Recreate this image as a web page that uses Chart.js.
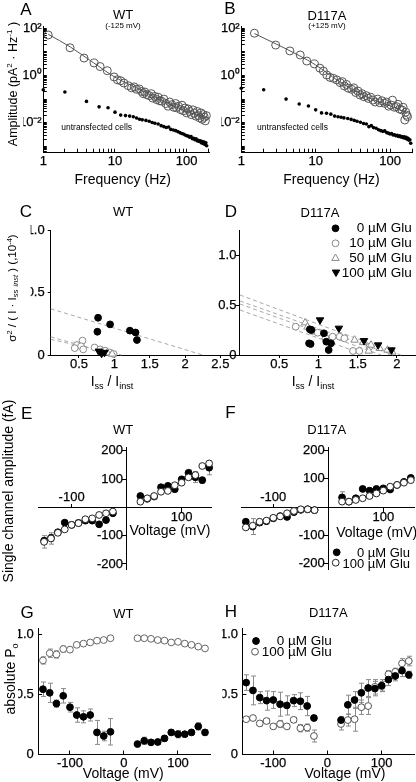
<!DOCTYPE html>
<html><head><meta charset="utf-8">
<script src="https://cdn.jsdelivr.net/npm/chart.js@4.4.1/dist/chart.umd.min.js"></script>
<style>
html,body{margin:0;padding:0;background:#fff;}
body{width:416px;height:782px;position:relative;overflow:hidden;font-family:'Liberation Sans',Arial,Helvetica,sans-serif;color:#000;}
canvas{position:absolute;left:0;top:0;}
.t{position:absolute;white-space:nowrap;line-height:1;}
.t sup{font-size:0.65em;vertical-align:0.55em;line-height:0;}
.t sub{font-size:0.65em;vertical-align:-0.3em;line-height:0;}
</style></head><body>
<script>
const FONT = "'Liberation Sans', Arial, Helvetica, sans-serif";
Chart.defaults.color = '#000';
Chart.defaults.font.family = FONT;

// ================= DATA =================
// Panel A: WT (-125 mV) noise spectra
const aFreqOpen = [1.17,2.36,3.7,5.1,6.2,7.8,9.7,10.8,12,13.3,15.3,17,18.5,20,21.8,23.5,24.8,26,27.7,30,32,33.6,36,38.2,40,42,45,48,51,55,58,62,66,70,72,77,82,86,90,95,100,105,110,116,122,128,134,140,146,152,158,164,170,176,182,188];
const aOpen = [52,15,5.5,3.4,2.4,1.6,0.87,0.66,0.6,0.48,0.37,0.3,0.33,0.26,0.27,0.21,0.17,0.2,0.155,0.14,0.17,0.11,0.13,0.095,0.12,0.085,0.081,0.1,0.065,0.05,0.075,0.058,0.045,0.065,0.043,0.05,0.036,0.055,0.032,0.042,0.026,0.038,0.03,0.022,0.035,0.025,0.019,0.03,0.02,0.016,0.026,0.014,0.022,0.017,0.012,0.02];
const dotFreq = [1,2,4,6,8,10,12,14,16,18,20,22,24,27,30,33,36,40,44,48,52,56,60,65,70,75,80,85,90,95,100,105,110,115,120,125,130,135,140,145,150,155,160,165,170,175,180,185,190];
const aDots = [0.25,0.2,0.08,0.047,0.043,0.028,0.021,0.02,0.019,0.018,0.0158,0.014,0.0132,0.0125,0.0115,0.0102,0.0095,0.0088,0.0075,0.0068,0.0063,0.0066,0.0052,0.0049,0.0046,0.0042,0.0038,0.0035,0.0033,0.0030,0.0028,0.0027,0.0024,0.0026,0.0021,0.0022,0.0019,0.0021,0.0017,0.0018,0.0016,0.0017,0.0014,0.0016,0.0013,0.0015,0.0012,0.0014,0.00105];
const aFitFreq = [1.17,2.4,5,10,20,50,100,190];
const aFit = [56,16,3.5,0.85,0.3,0.075,0.03,0.016];
// Panel B: D117A (+125 mV)
const bFreqOpen = [1.5,2.9,4.5,6.2,7.6,9.6,11.4,12.7,14.1,15.6,17.3,19.2,21.3,22.8,24.3,26,27.5,30.5,32.5,34.6,37,39.5,42,44.5,48,51,55,59,63,68,73,78,85,90,96,103,108,115,122,128,135,144,150,158,163,167,172];
const bOpen = [62,19.5,11,7.4,4.1,3.1,2.05,1.55,1.05,0.83,0.76,0.65,0.5,0.55,0.36,0.42,0.29,0.26,0.3,0.19,0.22,0.15,0.17,0.126,0.14,0.107,0.12,0.091,0.075,0.1,0.07,0.085,0.066,0.075,0.05,0.056,0.09,0.045,0.048,0.06,0.038,0.035,0.045,0.013,0.028,0.021,0.018];
const bDots = [0.29,0.25,0.1,0.062,0.051,0.035,0.026,0.025,0.023,0.019,0.018,0.017,0.016,0.015,0.0138,0.0125,0.0115,0.0105,0.0092,0.0088,0.0068,0.0075,0.0062,0.0058,0.005,0.0046,0.0043,0.0045,0.0038,0.0036,0.0033,0.0035,0.003,0.0031,0.0028,0.0029,0.0026,0.0028,0.0025,0.0026,0.0023,0.0025,0.0022,0.0024,0.002,0.0022,0.0018,0.0019,0.00135];
const bFitFreq = [1.5,3,6,10,20,50,100,170];
const bFit = [60,21,7,2.8,0.6,0.12,0.052,0.026];
const freqTickVals = [1,10,100];
const freqTickLabels = ['1','10','100'];
const ampTickVals = [0.01,1,100];
const ampTickLabels = ['10⁻²','10⁰','10²'];

// Panel C: WT variance analysis
const cZeroX = [0.77,0.94,0.76,1.22,1.30,1.32];
const cZeroY = [0.298,0.245,0.186,0.195,0.18,0.12];
const cTenX = [0.55,0.47,0.53,0.44,0.56,0.72,0.8,0.87,0.93,0.99];
const cTenY = [0.115,0.08,0.07,0.055,0.045,0.06,0.045,0.035,0.02,0.008];
const cFiftyX = [0.83,0.9,0.97];
const cFiftyY = [0.025,0.018,0.008];
const cHundX = [0.78,0.82,0.86];
const cHundY = [0.03,0.012,0.02];
const cFitLines = [[[0.1,2.25],[0.37,0]],[[0.1,1.02],[0.145,0]],[[0.1,1.1],[0.125,0]]];
// Panel D: D117A variance analysis
const dZeroX = [0.89,0.91,1.07,1.1,0.88,0.9,1.16,1.13];
const dZeroY = [0.257,0.25,0.217,0.133,0.117,0.11,0.117,0.05];
const dTenX = [0.71,0.92,0.99,1.09,1.27,1.33,1.18,1.44,1.52,1.65];
const dTenY = [0.283,0.24,0.223,0.167,0.183,0.167,0.183,0.04,0.04,0.083];
const dFiftyX = [0.83,0.86,1.46,1.57,1.67,1.64,1.78,1.88,1.94];
const dFiftyY = [0.323,0.28,0.15,0.125,0.1,0.04,0.067,0.05,0.03];
const dHundX = [1.02,1.26,1.58,1.76,1.93];
const dHundY = [0.35,0.267,0.143,0.1,0.05];
const dFitLines = [[[0,2.05],[0.6,0]],[[0,1.95],[0.54,0]],[[0,1.8],[0.51,0]],[[0,1.6],[0.45,0]]];
const ratioTickVals = [0.5,1,1.5,2,2.5];
const ratioTickLabels = ['0.5','1','1.5','2','2.5'];
const sigTickVals = [0,0.5,1.0];
const sigTickLabels = ['0','0.5','1.0'];

// Panels E-H: voltage dependence
const volts = [-150,-137.5,-125,-112.5,-100,-87.5,-75,-62.5,-50,-37.5,-25,25,37.5,50,62.5,75,87.5,100,112.5,125,137.5,150];
const eZero = [-118,-108,-88,-54,-62,-55,-47,-47,-60,-45,-21,40,30,38,71,76,64,99,122,106,96,140];
const eZeroErr = [10,12,8,6,6,5,5,6,8,6,5,8,6,6,8,6,8,10,10,18,10,25];
const eHund = [-122,-110,-90,-78,-62,-56,-42,-39,-27,-21,-15,20,32,40,55,58,78,87,106,114,146,155];
const eHundErr = [22,20,8,6,5,5,5,5,6,5,5,5,5,5,5,5,6,6,8,12,8,8];
const fZero = [-52,-69,-55,-50,-40,-32,-35,-18,-10,-8,-11,34,19,31,64,58,64,66,62,78,89,103];
const fZeroErr = [8,28,8,6,6,5,5,5,5,5,5,20,6,6,6,6,6,6,6,6,6,6];
const fHund = [-72,-66,-52,-48,-38,-33,-22,-14,-8,-8,-11,19,19,25,31,39,48,58,72,78,86,95];
const fHundErr = [6,6,5,5,5,5,5,5,5,5,5,6,5,5,5,5,5,5,5,5,5,5];
const gZero = [0.54,0.51,0.42,0.485,0.39,0.325,0.31,0.325,0.18,0.15,0.185,0.083,0.11,0.097,0.1,0.13,0.18,0.165,0.165,0.18,0.23,0.18];
const gZeroErr = [0.06,0.08,0.03,0.06,0.04,0.06,0.05,0.05,0.1,0.04,0.11,0.02,0.03,0.02,0.02,0.02,0.02,0.03,0.02,0.02,0.03,0.02];
const gHund = [0.78,0.84,0.83,0.875,0.87,0.91,0.92,0.93,0.945,0.95,0.965,0.965,0.965,0.96,0.95,0.945,0.93,0.935,0.92,0.91,0.895,0.88];
const gHundErr = [0.03,0.035,0.03,0.025,0.02,0.015,0.01,0.01,0.01,0.01,0.01,0.01,0.01,0.01,0.01,0.01,0.01,0.01,0.01,0.01,0.01,0.015];
const hZero = [0.595,0.53,0.47,0.445,0.45,0.415,0.405,0.445,0.44,0.4,0.3,0.283,0.41,0.45,0.51,0.55,0.545,0.57,0.62,0.65,0.695,0.66];
const hZeroErr = [0.065,0.12,0.05,0.08,0.07,0.1,0.08,0.05,0.07,0.08,0.02,0.03,0.08,0.07,0.08,0.07,0.06,0.05,0.05,0.04,0.05,0.03];
const hHund = [0.29,0.3,0.255,0.275,0.23,0.25,0.23,0.285,0.215,0.22,0.15,0.25,0.283,0.29,0.39,0.4,0.56,0.565,0.665,0.685,0.755,0.775];
const hHundErr = [0.02,0.02,0.02,0.02,0.02,0.03,0.02,0.02,0.03,0.03,0.05,0.05,0.05,0.1,0.06,0.07,0.06,0.04,0.03,0.03,0.04,0.04];
const ampIVTickVals = [-200,-100,100,200];
const ampIVTickLabels = ['-200','-100','100','200'];
const voltTickVals = [-100,0,100];
const voltTickLabels = ['-100','0','100'];
const poTickVals = [0,0.5,1.0];
const poTickLabels = ['0','0.5','1.0'];

// ================= HELPERS =================
const pts = (xs, ys) => xs.map((x, i) => ({x, y: ys[i]}));
function labeler(vals, labels, suffix) {
  return v => {
    const i = vals.findIndex(u => Math.abs(u - v) <= 1e-9 + 1e-6 * Math.abs(u));
    return i < 0 ? '' : labels[i] + (suffix || '');
  };
}
function logTicks(min, max) {
  const out = [];
  for (let e = -4; e <= 3; e++) for (let m = 1; m <= 9; m++) {
    const v = +(m * Math.pow(10, e)).toPrecision(6);
    if (v >= min && v <= max) out.push(v);
  }
  return out;
}
function ax(o) {
  const s = {
    type: o.type || 'linear',
    position: o.position,
    min: o.min, max: o.max,
    bounds: 'data',
    afterBuildTicks: sc => { sc.ticks = o.ticks.map(v => ({value: v})); },
    afterFit: sc => {
      if (sc.isHorizontal()) sc.height = 20; else sc.width = 20;
      sc.paddingLeft = 0; sc.paddingRight = 0; sc.paddingTop = 0; sc.paddingBottom = 0;
    },
    border: {display: true, color: '#000', width: 1},
    grid: {display: true, drawOnChartArea: false, drawTicks: true, tickLength: o.tl, color: '#000', tickColor: '#000', tickWidth: 1, lineWidth: 1},
    ticks: {autoSkip: false, maxRotation: 0, minRotation: 0, padding: o.pad, color: '#000', textStrokeColor: '#000', textStrokeWidth: 0.25, font: {family: FONT, size: o.fs || 13}, callback: o.label}
  };
  if (o.axis) s.axis = o.axis;
  return s;
}
function marker(data, o) {
  return {
    data, showLine: false, clip: false,
    pointStyle: o.style || 'circle', pointRotation: o.rot || 0,
    pointRadius: o.r, pointBorderWidth: o.bw === undefined ? 1 : o.bw,
    pointBackgroundColor: o.fill, pointBorderColor: o.stroke,
    backgroundColor: o.fill, borderColor: o.stroke,
    errors: o.errors
  };
}
function lineDS(data, o) {
  return {
    data, showLine: true, clip: false, pointRadius: 0, borderWidth: 1, fill: false,
    borderColor: o.color, borderDash: o.dash || [], tension: o.tension || 0,
    cubicInterpolationMode: o.mono ? 'monotone' : 'default'
  };
}
const errorBars = {
  id: 'errorBars',
  beforeDatasetsDraw(chart) {
    const ctx = chart.ctx;
    chart.data.datasets.forEach((ds, i) => {
      if (!ds.errors) return;
      const meta = chart.getDatasetMeta(i);
      const ys = chart.scales[meta.yAxisID];
      ctx.save();
      ctx.strokeStyle = '#8a8a8a'; ctx.lineWidth = 1;
      meta.data.forEach((el, j) => {
        const v = ds.data[j].y, e = ds.errors[j];
        const x = Math.round(el.x) + 0.5;
        const y1 = ys.getPixelForValue(v - e), y2 = ys.getPixelForValue(v + e);
        ctx.beginPath();
        ctx.moveTo(x, y1); ctx.lineTo(x, y2);
        ctx.moveTo(x - 2.5, y1); ctx.lineTo(x + 2.5, y1);
        ctx.moveTo(x - 2.5, y2); ctx.lineTo(x + 2.5, y2);
        ctx.stroke();
      });
      ctx.restore();
    });
  }
};
function drawMark(ctx, m) {
  ctx.save();
  ctx.beginPath();
  if (m.style === 'circle') ctx.arc(m.x, m.y, m.r, 0, Math.PI * 2);
  else {
    const rot = m.style === 'tridown' ? Math.PI : 0;
    for (let k = 0; k < 3; k++) {
      const a = rot + k * 2 * Math.PI / 3;
      const px = m.x + Math.sin(a) * m.r, py = m.y - Math.cos(a) * m.r;
      if (k) ctx.lineTo(px, py); else ctx.moveTo(px, py);
    }
    ctx.closePath();
  }
  if (m.fill) { ctx.fillStyle = m.fill; ctx.fill(); }
  if (m.stroke) { ctx.strokeStyle = m.stroke; ctx.lineWidth = 1; ctx.stroke(); }
  ctx.restore();
}
function marksPlugin(items) {
  return { id: 'legendMarks', afterDraw(chart) { items.forEach(m => drawMark(chart.ctx, m)); } };
}
function makeChart(area, scales, datasets, opt) {
  opt = opt || {};
  const c = document.createElement('canvas');
  c.width = 416; c.height = 782;
  c.style.width = '416px'; c.style.height = '782px';
  document.body.appendChild(c);
  const [L, T, R, B] = area;
  return new Chart(c, {
    type: 'scatter',
    data: {datasets},
    options: {
      responsive: false, animation: false, devicePixelRatio: 1, events: [],
      layout: {autoPadding: false, padding: {left: L - (opt.leftBox || 0), top: T, right: 416 - R, bottom: 782 - B - (opt.bottomBox || 0)}},
      plugins: {legend: {display: false}, tooltip: {enabled: false}, title: {display: false}},
      scales
    },
    plugins: [errorBars, marksPlugin(opt.marks || [])]
  });
}
function T(html, x, y, size, mode) {
  const d = document.createElement('div');
  d.className = 't';
  d.innerHTML = html;
  d.style.left = x + 'px'; d.style.top = y + 'px'; d.style.fontSize = size + 'px';
  d.style.transform = mode === 'rot' ? 'translate(-50%,-50%) rotate(-90deg)' :
                      mode === 'right' ? 'translate(-100%,-50%)' : 'translate(-50%,-50%)';
  document.body.appendChild(d);
}

// ================= PANELS A, B =================
const ampMin = 0.000562, ampMax = 114.8;
function spectrum(area, fmax, fo, vo, dv, ff, fv) {
  makeChart(area, {
    x: ax({type: 'logarithmic', position: 'bottom', min: 1, max: fmax, ticks: logTicks(1, fmax), label: labeler(freqTickVals, freqTickLabels), tl: -3.5, pad: 5.4}),
    y: ax({type: 'logarithmic', position: 'left', min: ampMin, max: ampMax, ticks: logTicks(ampMin, ampMax), label: labeler(ampTickVals, ampTickLabels), tl: -3.5, pad: 5.1})
  }, [
    marker(pts(fo, vo), {r: 4, fill: 'rgba(0,0,0,0)', stroke: '#555'}),
    marker(pts(dotFreq, dv), {r: 1.8, fill: '#000', stroke: '#000', bw: 0}),
    lineDS(pts(ff, fv), {color: '#555', mono: true})
  ], {leftBox: 20, bottomBox: 20});
}
spectrum([43.3, 26.9, 209.8, 152.2], 210, aFreqOpen, aOpen, aDots, aFitFreq, aFit);
spectrum([241.3, 26.9, 412.4, 152.2], 200, bFreqOpen, bOpen, bDots, bFitFreq, bFit);

// ================= PANELS C, D =================
const grayOpen = '#8a8a8a';
function varianceSets(z, t, f, h, lines) {
  const ds = [
    marker(pts(z[0], z[1]), {r: 3.4, fill: '#000', stroke: '#000'}),
    marker(pts(h[0], h[1]), {r: 4.3, style: 'triangle', rot: 180, fill: '#000', stroke: '#000'}),
    marker(pts(f[0], f[1]), {r: 4.3, style: 'triangle', fill: '#fff', stroke: grayOpen}),
    marker(pts(t[0], t[1]), {r: 3.4, fill: '#fff', stroke: grayOpen})
  ];
  lines.forEach(l => ds.push(lineDS(pts(l[0], l[1]), {color: '#a8a8a8', dash: [4, 3]})));
  return ds;
}
makeChart([50.7, 230, 221.8, 355], {
  x: ax({position: 'bottom', min: 0.1, max: 2.52, ticks: ratioTickVals, label: labeler(ratioTickVals, ratioTickLabels), tl: 3, pad: -1.8}),
  y: ax({position: 'left', min: 0, max: 1.0, ticks: sigTickVals, label: labeler(sigTickVals, sigTickLabels), tl: 3, pad: 3})
}, varianceSets([cZeroX, cZeroY], [cTenX, cTenY], [cFiftyX, cFiftyY], [cHundX, cHundY], cFitLines), {leftBox: 20, bottomBox: 20});

makeChart([222.7, 230, 415.8, 355], {
  x: ax({position: 'bottom', min: -0.22, max: 2.24, ticks: ratioTickVals.slice(0, 4), label: labeler(ratioTickVals, ratioTickLabels), tl: 3, pad: -1.8}),
  y: ax({position: {x: 0}, min: 0, max: 1.25, ticks: sigTickVals, label: labeler(sigTickVals, sigTickLabels, ' '), tl: 3, pad: 0})
}, varianceSets([dZeroX, dZeroY], [dTenX, dTenY], [dFiftyX, dFiftyY], [dHundX, dHundY], dFitLines), {
  bottomBox: 20,
  marks: [
    {style: 'circle', x: 335.5, y: 228.3, r: 3.4, fill: '#000', stroke: '#000'},
    {style: 'circle', x: 335.5, y: 243.3, r: 3.4, fill: '#fff', stroke: grayOpen},
    {style: 'triangle', x: 335.5, y: 258.3, r: 4.3, fill: '#fff', stroke: grayOpen},
    {style: 'tridown', x: 336, y: 272.2, r: 4.3, fill: '#000', stroke: '#000'}
  ]
});

// ================= PANELS E, F =================
function ivChart(area, xmin, xmax, zero, zeroErr, hund, hundErr, marks) {
  makeChart(area, {
    x: ax({position: {y: 0}, min: xmin, max: xmax, ticks: [100], label: labeler(ampIVTickVals, ampIVTickLabels), tl: 4, pad: -1.6}),
    x2: ax({axis: 'x', position: {y: 0}, min: xmin, max: xmax, ticks: [-100], label: labeler(ampIVTickVals, ampIVTickLabels), tl: -4, pad: -13.6}),
    y: ax({position: {x: 0}, min: -220, max: 210, ticks: ampIVTickVals, label: labeler(ampIVTickVals, ampIVTickLabels, ' '), tl: 4, pad: 0})
  }, [
    marker(pts(volts, hund), {r: 3.4, fill: '#fff', stroke: '#222', errors: hundErr}),
    marker(pts(volts, zero), {r: 3.4, fill: '#000', stroke: '#000', errors: zeroErr})
  ], {marks: marks || []});
}
ivChart([38.6, 447.9, 211.9, 569.6], -160, 155, eZero, eZeroErr, eHund, eHundErr);
ivChart([241.4, 447.6, 414.1, 569.3], -158, 156, fZero, fZeroErr, fHund, fHundErr, [
  {style: 'circle', x: 336.7, y: 552.3, r: 3.4, fill: '#000', stroke: '#000'},
  {style: 'circle', x: 335.7, y: 562.7, r: 3.4, fill: '#fff', stroke: '#222'}
]);

// ================= PANELS G, H =================
function poChart(area, xmin, xmax, zero, zeroErr, hund, hundErr, openColor, marks) {
  makeChart(area, {
    x: ax({position: 'bottom', min: xmin, max: xmax, ticks: voltTickVals, label: labeler(voltTickVals, voltTickLabels), tl: -3.5, pad: 5.4}),
    y: ax({position: 'left', min: 0, max: 1.047, ticks: poTickVals, label: labeler(poTickVals, poTickLabels), tl: -4, pad: 8.3})
  }, [
    marker(pts(volts, zero), {r: 3.4, fill: '#000', stroke: '#000', errors: zeroErr}),
    marker(pts(volts, hund), {r: 3.4, fill: '#fff', stroke: openColor, errors: hundErr})
  ], {leftBox: 20, bottomBox: 20, marks: marks || []});
}
poChart([38.1, 628.4, 210.4, 754], -159, 160, gZero, gZeroErr, gHund, gHundErr, '#666');
poChart([242.4, 628.4, 414.2, 754], -157, 160, hZero, hZeroErr, hHund, hHundErr, '#555', [
  {style: 'circle', x: 256, y: 641, r: 3.4, fill: '#000', stroke: '#000'},
  {style: 'circle', x: 255, y: 651.7, r: 3.4, fill: '#fff', stroke: '#555'}
]);

// ================= TEXT =================
[['A',26,8.5],['B',230,8],['C',26,211],['D',231,211],['E',26.7,412.5],['F',230.5,412],['G',27,611.7],['H',231,610.5]]
  .forEach(a => T(a[0], a[1], a[2], 17));
[['WT',123,14],['D117A',327,15],['WT',123,211],['D117A',320,212],['WT',123,429],['D117A',326.7,429.3],['WT',123.3,613.3],['D117A',328.3,611.7]]
  .forEach(a => T(a[0], a[1], a[2], 13));
T('(-125 mV)', 123, 25.5, 8);
T('(+125 mV)', 327, 25.5, 8);
T('untransfected cells', 96.7, 126.7, 8.5);
T('untransfected cells', 292.5, 126.7, 8.5);
T('Frequency (Hz)', 122.7, 179, 14);
T('Frequency (Hz)', 331.5, 179, 14);
T('I<sub>ss</sub> / I<sub>inst</sub>', 112, 381, 14);
T('I<sub>ss</sub> / I<sub>inst</sub>', 313, 381, 14);
T('Voltage (mV)', 170, 530, 14);
T('Voltage (mV)', 376.7, 531.7, 14);
T('Voltage (mV)', 123.3, 772.7, 14);
T('Voltage (mV)', 345, 772.7, 14);
T('Amplitude (pA<sup>2</sup> · Hz<sup>-1</sup> )', 13.3, 84, 12.5, 'rot');
T('σ<sup>2</sup> / ( I · I<sub>ss</sub> <sub><i>inst</i></sub> ) (,10<sup>-4</sup>)', 13.3, 287.5, 11.5, 'rot');
T('Single channel amplitude (fA)', 7.5, 490.5, 14, 'rot');
T('absolute P<sub>o</sub>', 10, 679, 14, 'rot');
// legends
[['0 µM Glu',228.3],['10 µM Glu',243.3],['50 µM Glu',257.7],['100 µM Glu',272.7]].forEach(a => T(a[0], 411.7, a[1], 13.5, 'right'));
T('0 µM Glu', 410, 552.3, 13, 'right');
T('100 µM Glu', 410, 562.7, 13, 'right');
T('0 µM Glu', 331.7, 641, 13.5, 'right');
T('100 µM Glu', 331.7, 651.7, 13.5, 'right');
</script>
</body></html>
